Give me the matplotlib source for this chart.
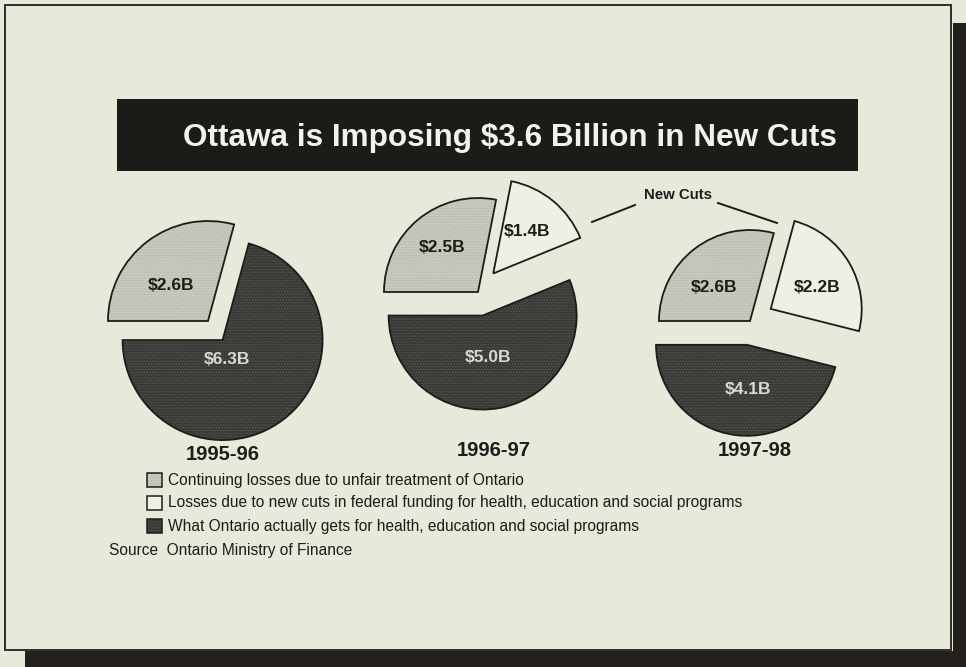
import numpy as np
import matplotlib
matplotlib.use("Agg")
import matplotlib.pyplot as plt
from matplotlib import font_manager
from matplotlib.patches import Wedge, Rectangle

# federal transfer to Ontario, $ billions
years = ["1995-96", "1996-97", "1997-98"]
continuing_losses = [2.6, 2.5, 2.6]
new_cuts = [0.0, 1.4, 2.2]
ontario_gets = [6.3, 5.0, 4.1]

title = "Ottawa is Imposing $3.6 Billion in New Cuts"
legend_labels = [
    "Continuing losses due to unfair treatment of Ontario",
    "Losses due to new cuts in federal funding for health, education and social programs",
    "What Ontario actually gets for health, education and social programs",
]
source = "Source  Ontario Ministry of Finance"

W, H = 966, 667
CREAM = "#e7e9db"
INK = "#1d1c19"
LIGHT = "#c8cabe"
DARK = "#393936"
WHITE = "#eff0e4"


def pick_font(names):
    for name in names:
        try:
            font_manager.findfont(font_manager.FontProperties(family=name),
                                  fallback_to_default=False)
            return name
        except ValueError:
            continue
    return "DejaVu Sans"


narrow = pick_font(["Liberation Sans Narrow", "Liberation Sans"])
regular = pick_font(["Liberation Sans", "Arimo"])

fig = plt.figure(figsize=(W / 100, H / 100), dpi=100, facecolor=CREAM)
ax = fig.add_axes([0, 0, 1, 1])
ax.set_xlim(0, W)
ax.set_ylim(H, 0)
ax.axis("off")
renderer = fig.canvas.get_renderer()


def fit_width(txt, target):
    bb = txt.get_window_extent(renderer)
    txt.set_fontsize(txt.get_fontsize() * target / bb.width)
    return txt.get_fontsize()


# page with its drop shadow
ax.add_patch(Rectangle((953, 23), 13, H - 23, color="#24211c", lw=0))
ax.add_patch(Rectangle((25, 651), W - 25, 16, color="#24211c", lw=0))
ax.add_patch(Rectangle((5, 5), 946, 645, facecolor=CREAM, edgecolor="#2e2d2a", lw=1.4))

# title bar
ax.add_patch(Rectangle((117, 99), 741, 72, color="#1c1b18", lw=0))
t = ax.text(510, 146, title, color="#f2f2ea", fontsize=23, fontweight="bold",
            family=narrow, ha="center", va="baseline")
fit_width(t, 654)

# pies
centers = [(208, 321), (478, 292), (750, 321)]
radii = [100, 94, 91]
explode = [0, 24, 24]
label_offsets = [
    [(-37, -36), None, (19, 39)],
    [(-36, -44), (49, -60), (10, 66)],
    [(-36, -34), (67, -33), (-2, 69)],
]
year_pos = [(223, 455), (494, 450), (755, 450)]


def draw_slice(cx, cy, r, a0, a1, off, face, dots, hatch):
    mid = np.deg2rad((a0 + a1) / 2)
    px, py = cx + off * np.cos(mid), cy - off * np.sin(mid)
    ax.add_patch(Wedge((px, py), r, -a1, -a0, facecolor=face, edgecolor=dots,
                       hatch=hatch, lw=0))
    ax.add_patch(Wedge((px, py), r, -a1, -a0, facecolor="none", edgecolor=INK,
                       lw=1.3, joinstyle="miter"))


plt.rcParams["hatch.linewidth"] = 0.6
for i in range(len(years)):
    vals = [continuing_losses[i], new_cuts[i], ontario_gets[i]]
    total = sum(vals)
    a_l, a_w, a_d = [360 * v / total for v in vals]
    cx, cy = centers[i]
    r = radii[i]

    draw_slice(cx, cy, r, 180 - a_l, 180, explode[0], LIGHT, "#b3b5aa", "......")
    if a_w > 0:
        draw_slice(cx, cy, r, 180 - a_l - a_w, 180 - a_l, explode[1], WHITE, WHITE, None)
    draw_slice(cx, cy, r, 180, 180 + a_d, explode[2], DARK, "#575753", "......")

    texts = [f"${v:.1f}B" for v in vals]
    colors = [INK, INK, "#d9d9d0"]
    for j in range(3):
        if label_offsets[i][j] is None or vals[j] == 0:
            continue
        dx, dy = label_offsets[i][j]
        ax.text(cx + dx, cy + dy, texts[j], color=colors[j], fontsize=12.5,
                fontweight="bold", family=regular, ha="center", va="center")

    ax.text(year_pos[i][0], year_pos[i][1], years[i], color=INK, fontsize=14.5,
            fontweight="bold", family=regular, ha="center", va="center")

# callout for the new-cut slices
ax.text(678, 195, "New Cuts", color=INK, fontsize=10.8, fontweight="bold",
        family=regular, ha="center", va="center")
ax.plot([592, 635], [222, 205], color=INK, lw=1.4)
ax.plot([718, 777], [203, 223], color=INK, lw=1.4)

# legend
swatches = [(LIGHT, "#b3b5aa", "......"), (WHITE, WHITE, None), (DARK, "#575753", "......")]
rows = [480, 503, 526]
size = None
for (face, dots, hatch), y, label in zip(swatches, rows, legend_labels):
    ax.add_patch(Rectangle((147, y - 7), 15, 14, facecolor=face, edgecolor=dots,
                           hatch=hatch, lw=0))
    ax.add_patch(Rectangle((147, y - 7), 15, 14, facecolor="none", edgecolor=INK, lw=1.1))
    txt = ax.text(168, y, label, color=INK, fontsize=10, family=narrow,
                  ha="left", va="center")
    if label is legend_labels[1]:
        size = fit_width(txt, 577)
for txt in ax.texts[-3:]:
    txt.set_fontsize(size)

ax.text(109, 550, source, color=INK, fontsize=size, family=narrow,
        ha="left", va="center")

fig.savefig("out.png", dpi=100, facecolor=CREAM)
